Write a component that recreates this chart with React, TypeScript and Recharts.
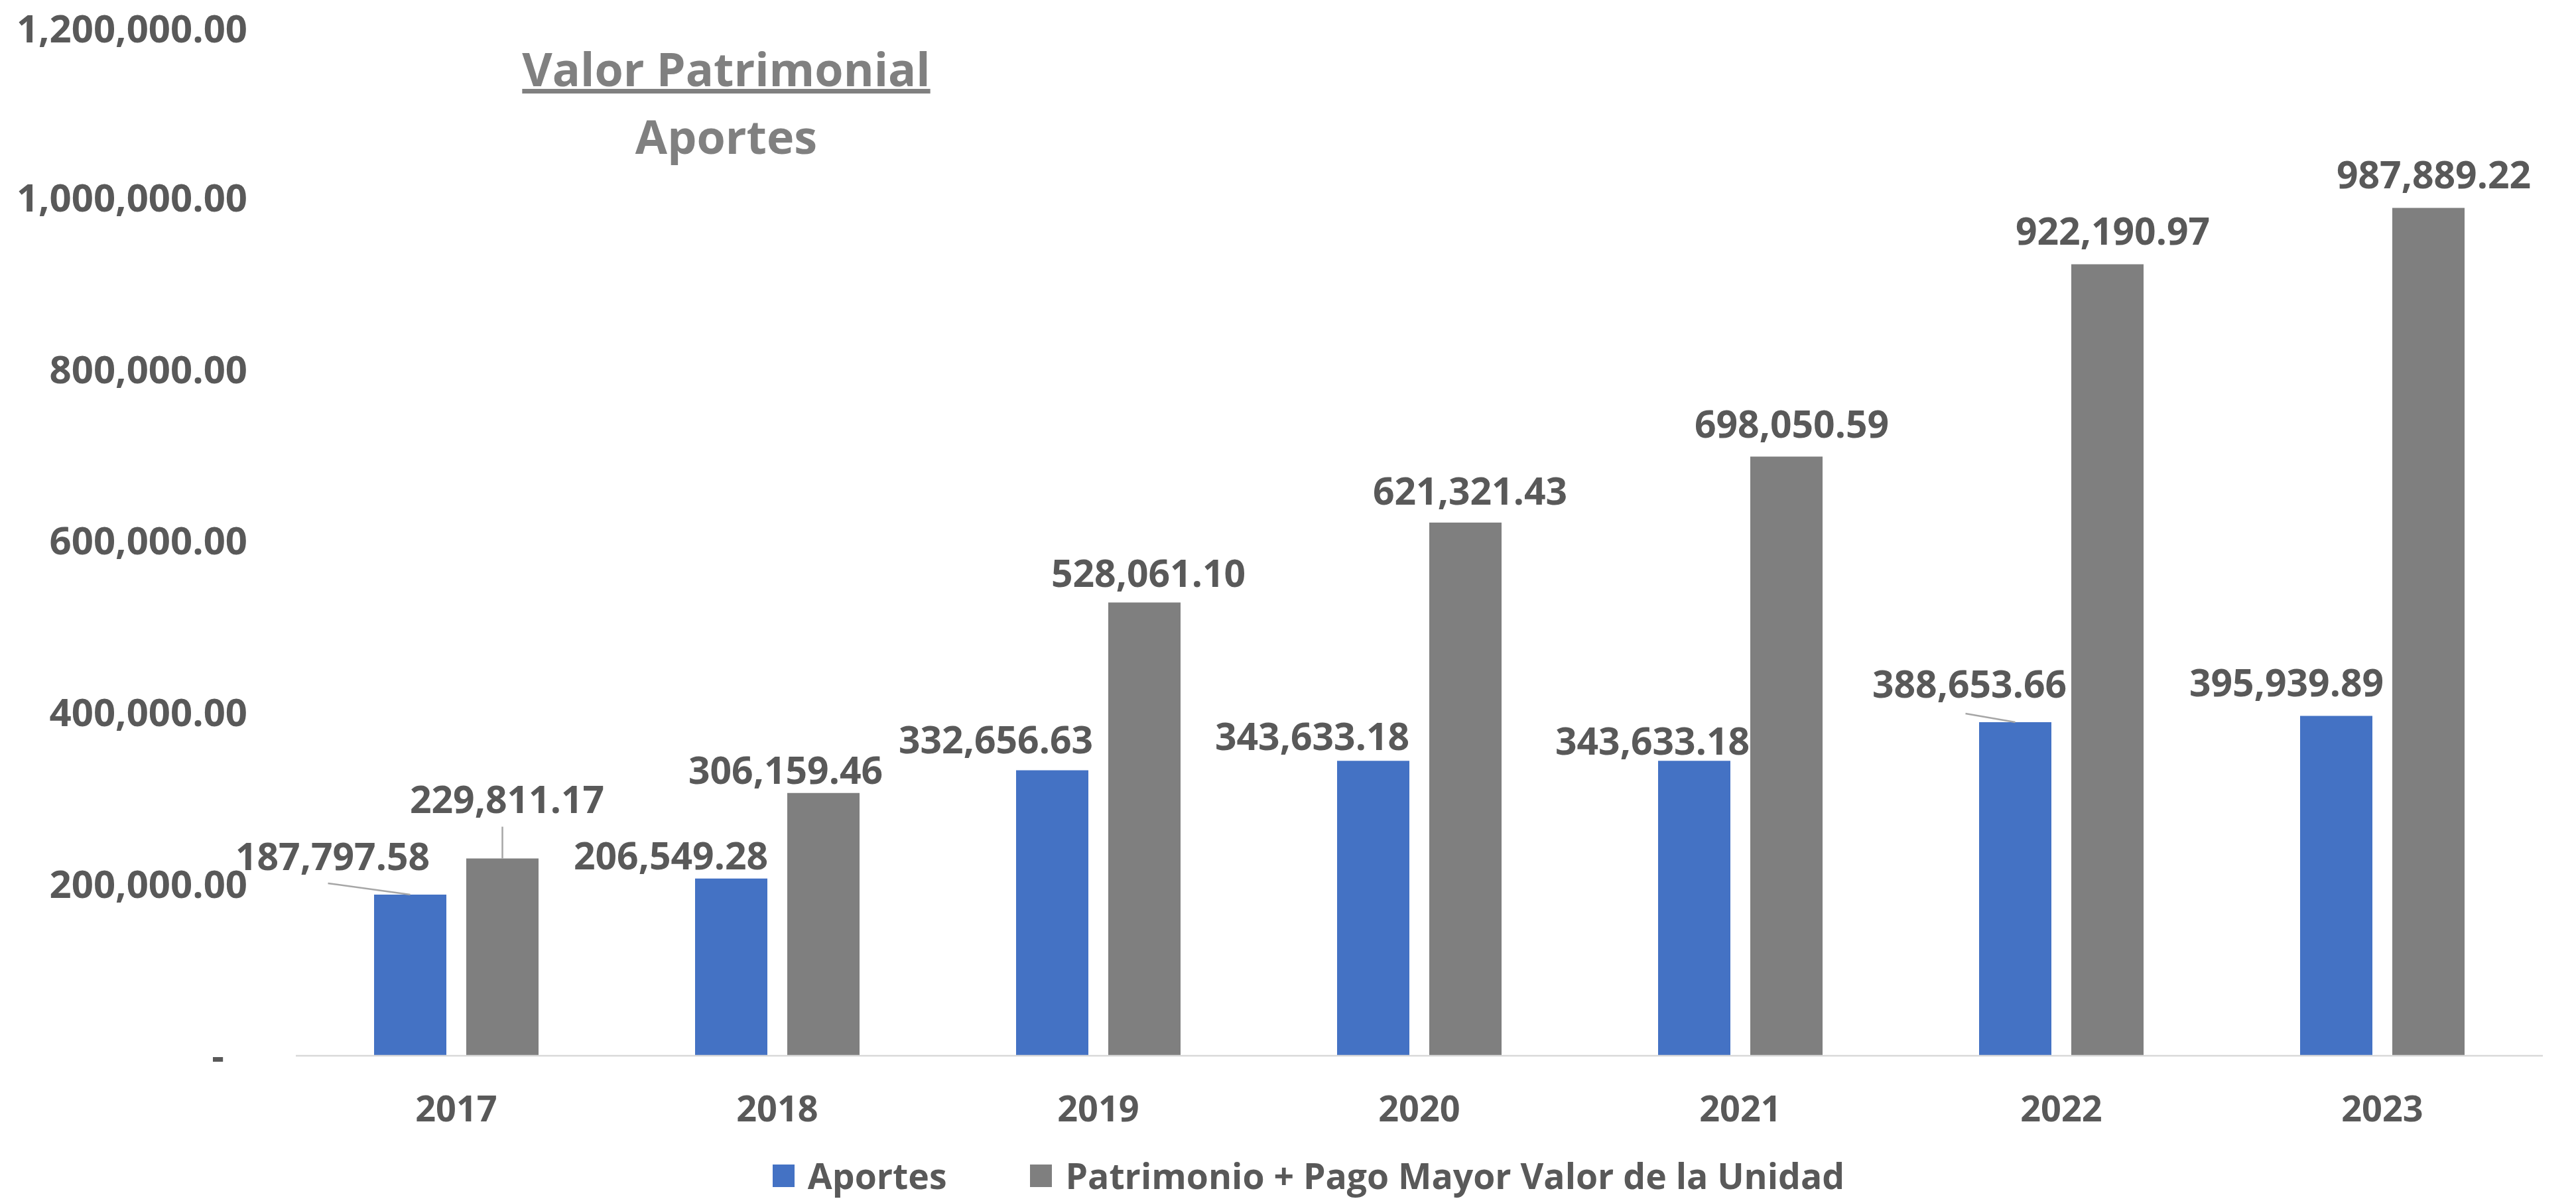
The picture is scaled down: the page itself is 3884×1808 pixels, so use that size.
import React from 'react';
import { BarChart, Bar, XAxis, YAxis, Legend, LabelList } from 'recharts';

const years = ['2017', '2018', '2019', '2020', '2021', '2022', '2023'];
const aportes = [187797.58, 206549.28, 332656.63, 343633.18, 343633.18, 388653.66, 395939.89];
const patrimonio = [229811.17, 306159.46, 528061.1, 621321.43, 698050.59, 922190.97, 987889.22];
const yTicks = [0, 200000, 400000, 600000, 800000, 1000000, 1200000];
const seriesNames = ['Aportes', 'Patrimonio + Pago Mayor Valor de la Unidad'];
const titleLines = ['Valor Patrimonial', 'Aportes'];

// label placement tweaks (relative to the bar top centre), mimicking Excel's moved labels
const aportesLabelShift = [
  { dx: -117, base: 37, leader: [-124, -17] },
  { dx: -91, base: 14 },
  { dx: -85, base: 25 },
  { dx: -92, base: 16 },
  { dx: -63, base: 9 },
  { dx: -69, base: 37, leader: [-75, -13] },
  { dx: -75, base: 30 },
];
const patrimonioLabelShift = [
  { dx: 7, base: 69, leader: [0, -48] },
  { dx: -57, base: 14 },
  { dx: 6, base: 24 },
  { dx: 7, base: 27 },
  { dx: 8, base: 29 },
  { dx: 8, base: 30 },
  { dx: 8, base: 30 },
];

const data = years.map((y, i) => ({ year: y, aportes: aportes[i], patrimonio: patrimonio[i] }));

const FONT = '"Open Sans", "DejaVu Sans", sans-serif';
const TEXT = '#595959';
const BLUE = '#4472C4';
const GRAY = '#7F7F7F';
const Y_MAX = yTicks[yTicks.length - 1];

const fmt = (v: number) =>
  v.toLocaleString('en-US', { minimumFractionDigits: 2, maximumFractionDigits: 2 });

const YTick = (props: any) => {
  const { x, y, payload } = props;
  const v = payload.value as number;
  return (
    <text
      x={v === 0 ? x - 35 : x}
      y={v === Y_MAX ? y + 4 : y}
      dy="0.36em"
      textAnchor="end"
      fill={TEXT}
      fontSize={58}
      fontWeight={700}
      fontFamily={FONT}
    >
      {v === 0 ? '-' : fmt(v)}
    </text>
  );
};

const XTick = (props: any) => {
  const { x, y, payload } = props;
  return (
    <text x={x} y={y} dy="0.36em" textAnchor="middle" fill={TEXT} fontSize={54} fontWeight={700} fontFamily={FONT}>
      {payload.value}
    </text>
  );
};

const makeLabel = (shifts: any[]) => (props: any) => {
  const { x, y, width, index, value } = props;
  const cx = Number(x) + Number(width) / 2;
  const top = Number(y);
  const s = shifts[index] || { dx: 0, base: 14 };
  return (
    <g>
      {s.leader && (
        <line x1={cx + s.leader[0]} y1={top + s.leader[1]} x2={cx} y2={top} stroke="#A6A6A6" strokeWidth={2.5} />
      )}
      <text
        x={cx + s.dx}
        y={top - s.base}
        textAnchor="middle"
        fill={TEXT}
        fontSize={57}
        fontWeight={700}
        fontFamily={FONT}
      >
        {fmt(value)}
      </text>
    </g>
  );
};

const LegendContent = () => (
  <div
    style={{
      display: 'flex',
      justifyContent: 'center',
      alignItems: 'center',
      height: 70,
      paddingLeft: 112,
      fontFamily: FONT,
      fontWeight: 700,
      fontSize: 53.5,
      color: TEXT,
    }}
  >
    {[BLUE, GRAY].map((c, i) => (
      <div key={i} style={{ display: 'flex', alignItems: 'center', marginRight: i === 0 ? 126 : 0 }}>
        <div style={{ width: 33, height: 34, background: c, marginRight: 20 }} />
        <span style={{ whiteSpace: 'nowrap', lineHeight: '70px' }}>{seriesNames[i]}</span>
      </div>
    ))}
  </div>
);

export default function App() {
  return (
    <div style={{ position: 'absolute', left: 0, top: 0, width: 3884, height: 1808, background: '#fff' }}>
      <BarChart
        width={3884}
        height={1808}
        data={data}
        margin={{ top: 39, right: 50, left: 0, bottom: 0 }}
        barSize={109}
        barGap={30}
      >
        <XAxis
          dataKey="year"
          height={146}
          tickLine={false}
          tickSize={0}
          tickMargin={80}
          axisLine={{ stroke: '#D9D9D9', strokeWidth: 2.5 }}
          tick={<XTick />}
          interval={0}
        />
        <YAxis
          width={446}
          domain={[0, Y_MAX]}
          ticks={yTicks}
          axisLine={false}
          tickLine={false}
          tickSize={0}
          tickMargin={73}
          tick={<YTick />}
          interval={0}
        />
        <Legend verticalAlign="bottom" height={70} content={<LegendContent />} />
        <Bar dataKey="aportes" name={seriesNames[0]} fill={BLUE} isAnimationActive={false}>
          <LabelList dataKey="aportes" content={makeLabel(aportesLabelShift)} />
        </Bar>
        <Bar dataKey="patrimonio" name={seriesNames[1]} fill={GRAY} isAnimationActive={false}>
          <LabelList dataKey="patrimonio" content={makeLabel(patrimonioLabelShift)} />
        </Bar>
      </BarChart>
      <svg
        width={3884}
        height={400}
        style={{ position: 'absolute', left: 0, top: 0, pointerEvents: 'none' }}
      >
        <text
          x={1095}
          y={130}
          textAnchor="middle"
          fill="#808080"
          fontSize={70}
          fontWeight={700}
          fontFamily={FONT}
          textDecoration="underline"
        >
          {titleLines[0]}
        </text>
        <text x={1095} y={232} textAnchor="middle" fill="#808080" fontSize={70} fontWeight={700} fontFamily={FONT}>
          {titleLines[1]}
        </text>
      </svg>
    </div>
  );
}
